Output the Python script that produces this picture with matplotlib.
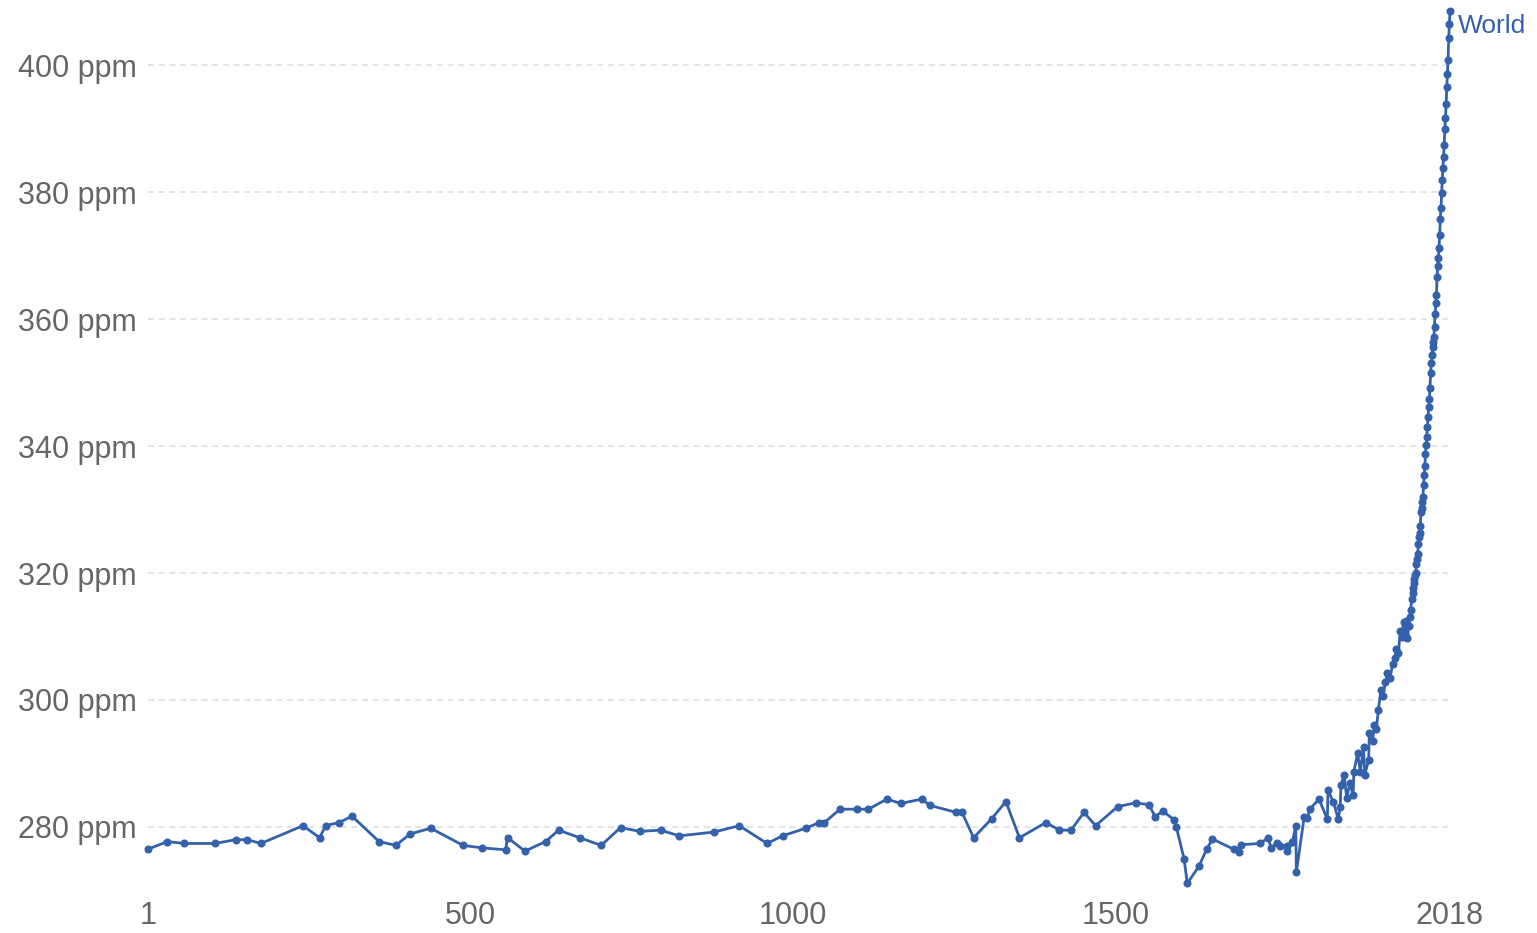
import numpy as np
import matplotlib
matplotlib.use("Agg")
import matplotlib.pyplot as plt

plt.rcParams['font.family'] = ['Liberation Sans', 'DejaVu Sans']

# ice core part
years_old = [1, 31, 57, 105, 137, 155, 176, 241, 267, 276, 297, 317, 359, 385, 407,
             439, 489, 519, 555, 558, 585, 617, 637, 670, 703, 733, 763, 795, 824,
             878, 917, 960, 984, 1020, 1041, 1049, 1073, 1100, 1117, 1146, 1167,
             1200, 1212, 1253, 1262, 1280, 1308, 1330, 1351, 1392, 1413, 1431, 1451,
             1469, 1503, 1531, 1552, 1561, 1573, 1591, 1594, 1606, 1611, 1629, 1641,
             1650, 1683, 1691, 1694, 1724, 1736, 1741, 1750, 1755, 1765, 1766, 1774,
             1779, 1780, 1792, 1797, 1801, 1815, 1828, 1829, 1837, 1845, 1848, 1849,
             1854, 1858, 1863, 1868, 1869, 1875, 1879, 1884, 1886, 1892, 1893, 1898,
             1901, 1904, 1907, 1911, 1914, 1918, 1921, 1925, 1929, 1933, 1935, 1938,
             1941, 1943, 1946, 1948, 1950, 1952, 1954, 1956, 1957]
ppm_old = [276.5, 277.7, 277.4, 277.4, 278.0, 278.0, 277.4, 280.2, 278.3, 280.2,
           280.7, 281.7, 277.7, 277.1, 278.9, 279.8, 277.1, 276.7, 276.4, 278.3,
           276.2, 277.7, 279.5, 278.3, 277.1, 279.9, 279.3, 279.5, 278.6, 279.2,
           280.2, 277.4, 278.6, 279.8, 280.7, 280.7, 282.8, 282.8, 282.8, 284.4,
           283.7, 284.4, 283.4, 282.3, 282.3, 278.3, 281.3, 284.0, 278.3, 280.7,
           279.5, 279.5, 282.3, 280.2, 283.2, 283.8, 283.5, 281.6, 282.5, 281.1,
           280.0, 275.0, 271.1, 273.8, 276.5, 278.1, 276.5, 276.1, 277.2, 277.4,
           278.3, 276.7, 277.5, 277.0, 277.0, 276.2, 277.7, 280.2, 272.9, 281.5,
           281.4, 282.8, 284.4, 281.2, 285.8, 284.0, 281.2, 283.2, 286.6, 288.2,
           284.6, 286.9, 285.0, 288.7, 291.6, 288.7, 292.6, 288.2, 290.6, 294.8,
           293.6, 296.0, 295.5, 298.4, 301.6, 300.6, 302.8, 304.2, 303.4, 305.6,
           306.6, 308.1, 307.4, 310.8, 309.9, 312.3, 310.4, 312.5, 309.7, 311.6,
           313.0, 314.2]

# Mauna Loa annual means
years_new = list(range(1959, 2019))
ppm_new = [315.97, 316.91, 317.64, 318.45, 318.99, 319.62, 320.04, 321.38, 322.16,
           323.04, 324.62, 325.68, 326.32, 327.45, 329.68, 330.18, 331.11, 332.04,
           333.83, 335.40, 336.84, 338.75, 340.11, 341.45, 343.05, 344.65, 346.12,
           347.42, 349.19, 351.57, 353.12, 354.39, 355.61, 356.45, 357.10, 358.83,
           360.82, 362.61, 363.73, 366.70, 368.38, 369.55, 371.14, 373.28, 375.80,
           377.52, 379.80, 381.90, 383.79, 385.60, 387.43, 389.90, 391.65, 393.85,
           396.52, 398.65, 400.83, 404.24, 406.55, 408.52]

years = years_old + years_new
ppm = ppm_old + ppm_new

y_ticks = [280, 300, 320, 340, 360, 380, 400]
x_ticks = [1, 500, 1000, 1500, 2018]

blue = '#3461ab'
grey = '#666666'

fig = plt.figure(figsize=(15.37, 9.33), dpi=100)
ax = fig.add_axes([148 / 1537, 47 / 933, 1302 / 1537, 878 / 933])

ax.plot(years, ppm, color=blue, lw=2.0, marker='o', ms=4.8, clip_on=False, zorder=3)
ax.text(years[-1] + 12, ppm[-1] - 2.4, 'World', color=blue, fontsize=19,
        ha='left', va='center')

ax.set_xlim(1, 2018)
ax.set_ylim(270.7, 409.0)
ax.set_yticks(y_ticks)
ax.set_yticklabels([f'{v} ppm' for v in y_ticks])
ax.set_xticks(x_ticks)
ax.set_xticklabels([str(v) for v in x_ticks])
ax.tick_params(length=0, labelsize=22, colors=grey)
ax.tick_params(axis='y', pad=8)
ax.tick_params(axis='x', pad=11)
ax.grid(axis='y', color='#dddddd', ls=(0, (4, 3)), lw=1.1)
ax.set_axisbelow(True)
for s in ax.spines.values():
    s.set_visible(False)

fig.savefig('out.png', dpi=100)
